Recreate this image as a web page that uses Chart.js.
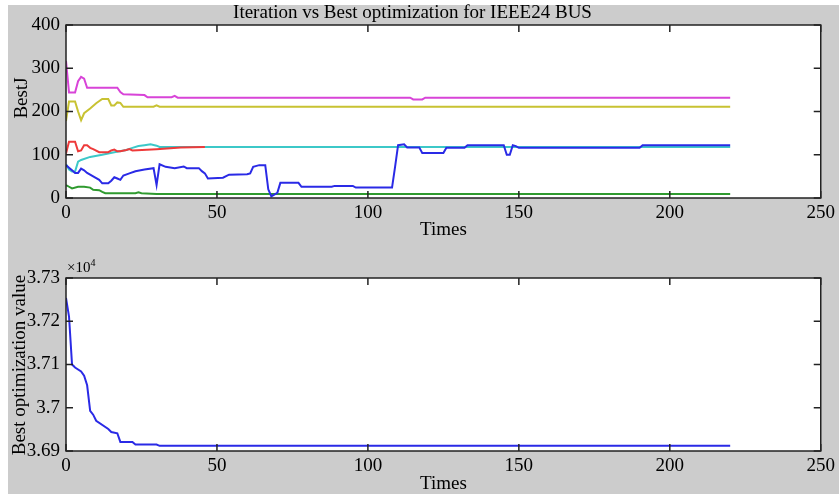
<!DOCTYPE html>
<html>
<head>
<meta charset="utf-8">
<script src="https://cdn.jsdelivr.net/npm/chart.js"></script>
<style>
  html, body { margin: 0; padding: 0; background: #fff; }
  #fig { position: absolute; left: 8px; top: 5px; width: 831px; height: 489px; background: #cccccc; }
  canvas { position: absolute; left: 0; }
  #bestJ { top: 0; }
  #bestOpt { top: 247px; }
</style>
</head>
<body>
<div id="fig"></div>
<canvas id="bestJ" width="839" height="247"></canvas>
<canvas id="bestOpt" width="839" height="247"></canvas>
<script>
// BestJ per unit, sampled at the iterations where the curve turns
const magentaT = [0, 1, 3, 4, 5, 6, 7, 17, 18, 19, 26, 27, 35, 36, 37, 114, 115, 118, 119, 220];
const magentaJ = [317, 244, 244, 270, 280, 276, 255, 255, 245, 240, 238, 233, 233, 236, 232, 232, 228, 228, 232, 232];

const yellowT = [0, 1, 3, 4, 5, 6, 8, 10, 12, 14, 15, 16, 17, 18, 19, 29, 30, 31, 220];
const yellowJ = [178, 223, 223, 200, 180, 196, 207, 219, 229, 229, 214, 214, 221, 220, 211, 211, 214, 211, 211];

const redT = [0, 1, 3, 4, 5, 6, 7, 8, 9, 11, 14, 15, 16, 17, 18, 20, 21, 22, 30, 38, 46];
const redJ = [103, 130, 130, 108, 110, 122, 122, 116, 113, 106, 106, 110, 112, 108, 108, 111, 113, 110, 113, 117, 118];

const cyanT = [0, 1, 2, 3, 4, 5, 8, 12, 16, 20, 22, 24, 26, 28, 30, 31, 220];
const cyanJ = [78, 66, 61, 61, 84, 88, 95, 100, 106, 111, 116, 120, 122, 124, 121, 118, 118];

const blueT = [0, 1, 2, 3, 4, 5, 6, 7, 9, 11, 12, 14, 15, 16, 17, 18, 19, 21, 23, 26,
  29, 30, 31, 33, 36, 39, 40, 44, 45, 46, 47, 52, 54, 60, 61, 62, 64, 66, 67, 68,
  69, 70, 71, 77, 78, 88, 89, 95, 96, 108, 109, 110, 112, 113, 117, 118, 125, 126, 132, 133,
  145, 146, 147, 148, 149, 150, 190, 191, 220];
const blueJ = [76, 70, 64, 58, 58, 68, 64, 58, 50, 42, 34, 34, 40, 48, 45, 42, 52, 57, 62, 66,
  69, 30, 78, 72, 69, 73, 69, 69, 62, 57, 45, 47, 54, 55, 57, 72, 76, 76, 20, 4,
  8, 12, 35, 35, 26, 26, 28, 28, 24, 24, 72, 122, 124, 117, 117, 104, 104, 116, 116, 122,
  122, 100, 100, 122, 120, 116, 116, 122, 122];

const greenT = [0, 1, 2, 4, 6, 8, 9, 11, 12, 13, 23, 24, 25, 30, 220];
const greenJ = [30, 26, 22, 26, 26, 24, 19, 18, 14, 11, 11, 13, 11, 9, 9];

// best total cost found so far
const bestT = [0, 1, 2, 3, 5, 6, 7, 8, 9, 10, 14, 15, 17, 18, 22, 23, 30, 31, 220];
const bestV = [37254, 37211, 37100, 37093, 37084, 37074, 37052, 36993, 36984, 36970, 36951, 36944, 36941, 36921, 36921, 36915, 36915, 36912, 36912];

const xTicks = [0, 50, 100, 150, 200, 250];
const jTicks = [0, 100, 200, 300, 400];
const optTicks = [36900, 37000, 37100, 37200, 37300];

const FONT = '"Liberation Serif", "Times New Roman", serif';
const SIZE = 19;

function pts(t, v) {
  return t.map((x, i) => ({ x, y: v[i] }));
}

function line(t, v, color) {
  return { data: pts(t, v), borderColor: color, borderWidth: 2, pointRadius: 0, fill: false, tension: 0 };
}

// white plot box, inward ticks on all four sides, rotated y label
const axesBox = {
  id: 'axesBox',
  beforeDraw(chart) {
    const { ctx, chartArea: a } = chart;
    ctx.save();
    ctx.fillStyle = '#fff';
    ctx.fillRect(a.left, a.top, a.width, a.height);
    ctx.restore();
  },
  afterDatasetsDraw(chart, args, opts) {
    const { ctx, chartArea: a, scales: { x, y } } = chart;
    const len = 7;
    ctx.save();
    ctx.strokeStyle = '#222';
    ctx.lineWidth = 1.5;
    ctx.beginPath();
    x.ticks.forEach(t => {
      const p = x.getPixelForValue(t.value);
      ctx.moveTo(p, a.bottom); ctx.lineTo(p, a.bottom - len);
      ctx.moveTo(p, a.top); ctx.lineTo(p, a.top + len);
    });
    y.ticks.forEach(t => {
      const p = y.getPixelForValue(t.value);
      ctx.moveTo(a.left, p); ctx.lineTo(a.left + len, p);
      ctx.moveTo(a.right, p); ctx.lineTo(a.right - len, p);
    });
    ctx.stroke();
    ctx.strokeRect(a.left, a.top, a.width, a.height);

    ctx.fillStyle = '#000';
    if (opts.exponent) {
      ctx.font = '15px ' + FONT;
      ctx.textBaseline = 'alphabetic';
      ctx.textAlign = 'left';
      ctx.fillText('\u00d710', a.left + 1, a.top - 6);
      const w = ctx.measureText('\u00d710').width;
      ctx.font = '10px ' + FONT;
      ctx.fillText('4', a.left + 1 + w, a.top - 12);
    }
    if (opts.yTitle) {
      ctx.translate(opts.yTitleX, opts.yTitleY);
      ctx.rotate(-Math.PI / 2);
      ctx.font = SIZE + 'px ' + FONT;
      ctx.textAlign = 'center';
      ctx.textBaseline = 'middle';
      ctx.fillText(opts.yTitle, 0, 0);
    }
    ctx.restore();
  }
};

Chart.register(axesBox);

function xScale(height, titlePad) {
  return {
    type: 'linear',
    min: 0, max: 250,
    afterBuildTicks: s => { s.ticks = xTicks.map(value => ({ value })); },
    afterFit: s => { s.height = height; },
    grid: { display: false, drawTicks: false },
    border: { display: false },
    ticks: { padding: 4, color: '#000', font: { family: FONT, size: SIZE } },
    title: { display: true, text: 'Times', color: '#000', font: { family: FONT, size: SIZE, lineHeight: 1 }, padding: { top: 0, bottom: titlePad } }
  };
}

new Chart(document.getElementById('bestJ'), {
  type: 'line',
  data: {
    datasets: [
      line(blueT, blueJ, '#2a2ae6'),
      line(redT, redJ, '#ee3a3a'),
      line(greenT, greenJ, '#2f9a2f'),
      line(cyanT, cyanJ, '#3cc8c8'),
      line(yellowT, yellowJ, '#c8c232'),
      line(magentaT, magentaJ, '#d844d8')
    ]
  },
  options: {
    responsive: false,
    animation: false,
    devicePixelRatio: 1,
    layout: { padding: { left: 0, right: 14, top: 0, bottom: 0 } },
    plugins: {
      legend: { display: false },
      tooltip: { enabled: false },
      title: {
        display: true,
        text: 'Iteration vs Best optimization for IEEE24 BUS',
        color: '#000',
        font: { family: FONT, size: SIZE, weight: 'normal', lineHeight: 1.2 },
        padding: { top: 2, bottom: 0.2 }
      },
      axesBox: { yTitle: 'BestJ', yTitleX: 22, yTitleY: 98 }
    },
    scales: {
      x: xScale(49, 7.5),
      y: {
        min: 0, max: 400,
        afterBuildTicks: s => { s.ticks = jTicks.map(value => ({ value })); },
        afterFit: s => { s.width = 66; },
        grid: { display: false, drawTicks: false },
        border: { display: false },
        ticks: { padding: 6, color: '#000', font: { family: FONT, size: SIZE } }
      }
    }
  }
});

new Chart(document.getElementById('bestOpt'), {
  type: 'line',
  data: {
    datasets: [line(bestT, bestV, '#2a2ae6')]
  },
  options: {
    responsive: false,
    animation: false,
    devicePixelRatio: 1,
    layout: { padding: { left: 0, right: 14, top: 31, bottom: 0 } },
    plugins: {
      legend: { display: false },
      tooltip: { enabled: false },
      axesBox: { yTitle: 'Best optimization value', yTitleX: 20, yTitleY: 118, exponent: true }
    },
    scales: {
      x: xScale(43, 0),
      y: {
        min: 36900, max: 37300,
        afterBuildTicks: s => { s.ticks = optTicks.map(value => ({ value })); },
        afterFit: s => { s.width = 66; },
        grid: { display: false, drawTicks: false },
        border: { display: false },
        ticks: {
          padding: 6, color: '#000', font: { family: FONT, size: SIZE },
          callback: v => String(+(v / 10000).toFixed(2))
        }
      }
    }
  }
});
</script>
</body>
</html>
